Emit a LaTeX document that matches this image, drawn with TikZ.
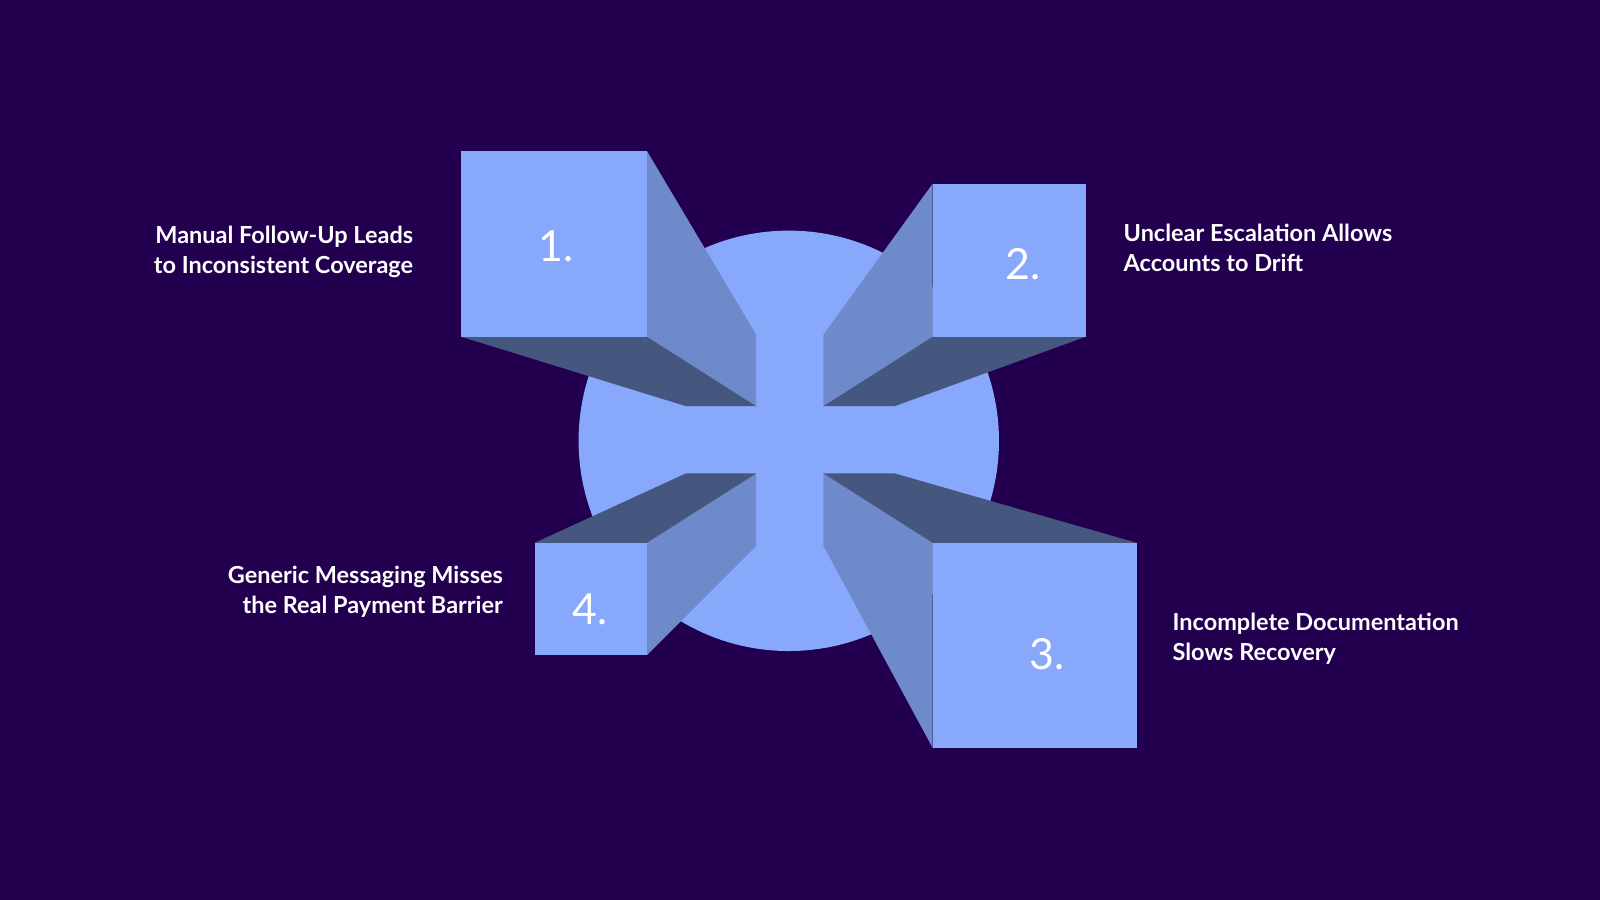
\documentclass[tikz,border=0pt]{standalone}
\usepackage{fontspec}
\setmainfont{Lato}
\definecolor{bg}{HTML}{22004F}
\definecolor{lt}{HTML}{88A8FB}
\definecolor{md}{HTML}{6E8ACB}
\definecolor{dk}{HTML}{45577F}
\begin{document}
\begin{tikzpicture}[x=1pt,y=-1pt,
  lbl/.style={text=white,font=\fontsize{23}{30}\selectfont\bfseries,inner sep=0},
  num/.style={text=white,font=\fontsize{42}{42}\selectfont,inner sep=0}]
\fill[bg] (0,0) rectangle (1568,882);
\useasboundingbox (0,0) rectangle (1568,882);
\fill[lt] (773,432) circle (206);
% box 1
\fill[md] (634,148)--(741,328)--(741,398)--(634,330)--cycle;
\fill[dk] (452,330)--(634,330)--(741,398)--(672,398)--cycle;
\fill[lt] (452,148) rectangle (634,330);
% box 2
\fill[md] (914,180)--(807,328)--(807,398)--(914,330)--cycle;
\fill[dk] (914,330)--(1064,330)--(877,398)--(807,398)--cycle;
\fill[lt] (914,180) rectangle (1064,330);
% box 3
\fill[md] (914,532)--(807,464)--(807,535)--(914,733)--cycle;
\fill[dk] (807,464)--(877,464)--(1114,532)--(914,532)--cycle;
\fill[lt] (914,532) rectangle (1114,733);
% box 4
\fill[md] (634,532)--(741,464)--(741,535)--(634,642)--cycle;
\fill[dk] (524,532)--(672,464)--(741,464)--(634,532)--cycle;
\fill[lt] (524,532) rectangle (634,642);
\node[num] (n1) at (545,241) {1.};
\node[num] (n2) at (1003,259) {2.};
\node[num] (n3) at (1026,641) {3.};
\node[num] (n4) at (578,597) {4.};
\node[lbl,anchor=east,align=right] (t1) at (405,247) {Manual Follow-Up Leads\\to Inconsistent Coverage};
\node[lbl,anchor=west,align=left] (t2) at (1101,243) {Unclear Escalation Allows\\Accounts to Drift};
\node[lbl,anchor=west,align=left] (t3) at (1149,626) {Incomplete Documentation\\Slows Recovery};
\node[lbl,anchor=east,align=right] (t4) at (493,580) {Generic Messaging Misses\\the Real Payment Barrier};
\end{tikzpicture}
\end{document}
